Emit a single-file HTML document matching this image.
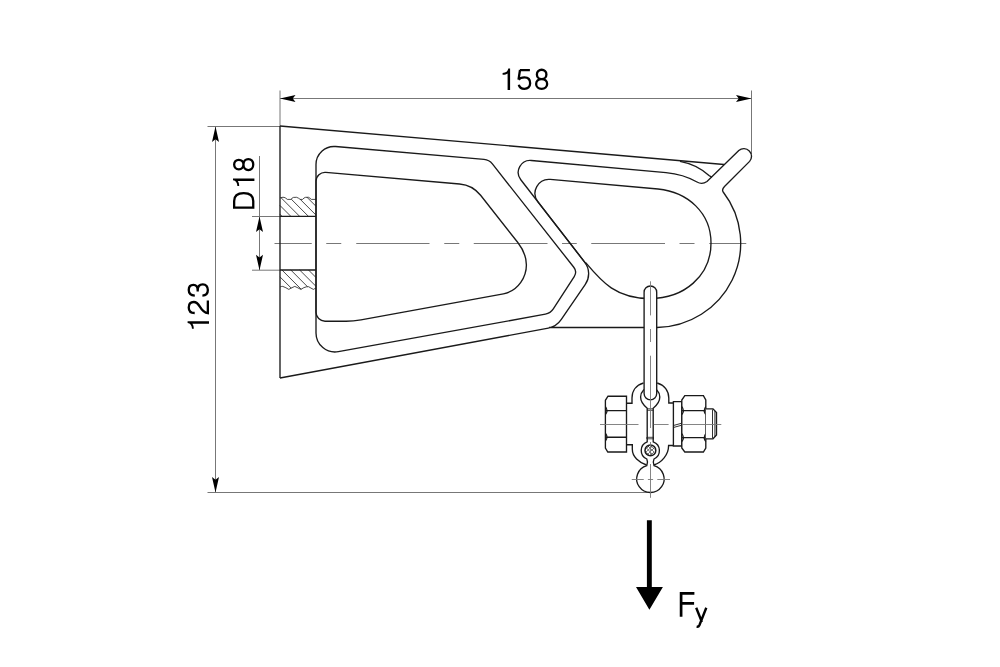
<!DOCTYPE html>
<html><head><meta charset="utf-8"><style>
html,body{margin:0;padding:0;background:#fff;}
svg{display:block;}
text{font-family:"Liberation Sans",sans-serif;}
</style></head><body>
<svg width="1000" height="667" viewBox="0 0 1000 667">
<rect width="1000" height="667" fill="#fff"/>
<path d="M280,90.5 V126" fill="none" stroke="#777" stroke-width="1" />
<path d="M751.5,90.5 V154" fill="none" stroke="#777" stroke-width="1" />
<path d="M280,98.5 H751.5" fill="none" stroke="#777" stroke-width="1" />
<path d="M280.00,98.50 L295.50,95.00 L292.80,98.50 L295.50,102.00 Z" fill="#000" stroke="none" stroke-width="0" />
<path d="M751.50,98.50 L736.00,102.00 L738.70,98.50 L736.00,95.00 Z" fill="#000" stroke="none" stroke-width="0" />
<path d="M207.5,126.5 H280" fill="none" stroke="#777" stroke-width="1" />
<path d="M207.5,492.5 H650" fill="none" stroke="#777" stroke-width="1" />
<path d="M215.5,126.5 V492.5" fill="none" stroke="#777" stroke-width="1" />
<path d="M215.50,126.50 L219.00,142.00 L215.50,139.30 L212.00,142.00 Z" fill="#000" stroke="none" stroke-width="0" />
<path d="M215.50,492.50 L212.00,477.00 L215.50,479.70 L219.00,477.00 Z" fill="#000" stroke="none" stroke-width="0" />
<path d="M252,216.5 H280" fill="none" stroke="#777" stroke-width="1" />
<path d="M252,270.2 H280" fill="none" stroke="#777" stroke-width="1" />
<path d="M259.5,156 V270" fill="none" stroke="#777" stroke-width="1" />
<path d="M259.50,216.50 L263.00,232.00 L259.50,229.30 L256.00,232.00 Z" fill="#000" stroke="none" stroke-width="0" />
<path d="M259.50,270.20 L256.00,254.70 L259.50,257.40 L263.00,254.70 Z" fill="#000" stroke="none" stroke-width="0" />
<path d="M274.50,243.5 H311.75 M326.25,243.5 H341.25 M356.25,243.5 H429.50 M444.25,243.5 H459.25 M473.75,243.5 H547.50 M562.00,243.5 H576.75 M591.25,243.5 H665.00 M679.50,243.5 H694.50 M709.25,243.5 H746.25" fill="none" stroke="#777" stroke-width="1" />
<path d="M280,126 L724,164.5" fill="none" stroke="#1a1a1a" stroke-width="1.35" />
<path d="M280,126 V378" fill="none" stroke="#1a1a1a" stroke-width="1.35" />
<path d="M680,161.3 C692,163.5 702,169 709,175.5 L712,177.3" fill="none" stroke="#1a1a1a" stroke-width="1.35" />
<path d="M335.56,146.54 L484.00,159.43 A12.00,12.00 0 0 1 492.39,163.95 L573.79,267.26 A8.00,8.00 0 0 1 574.22,276.55 L553.31,308.87 A12.00,12.00 0 0 1 545.38,314.16 L338.39,351.70 A19.00,19.00 0 0 1 316.00,333.01 L316.00,164.47 A18.00,18.00 0 0 1 335.56,146.54 Z" fill="none" stroke="#1a1a1a" stroke-width="1.35" />
<path d="M346.00,321.20 L325.00,321.20 A9.00,9.00 0 0 1 316.00,312.20 L316.00,181.35 A9.00,9.00 0 0 1 325.78,172.38 L459.62,183.97 A30.00,30.00 0 0 1 480.60,195.29 L517.80,242.50  C523.4,249.6 526.4,257 526.4,265 C526.4,276 519.1,290.9 503.4,293.8 L361,319.8 Q353.3,321.2 346,321.2" fill="none" stroke="#1a1a1a" stroke-width="1.35" />
<path d="M280.00,378.00 L548.32,328.10 A20.00,20.00 0 0 0 561.16,319.74 L585.32,284.47 A19.00,19.00 0 0 0 584.65,262.09 L520.79,179.77 A12.00,12.00 0 0 1 531.35,160.46 L666.00,172.60  C679,173.8 690,178 697,182 Q702,185 707,181.5 L738.8,150.55 A7.67,7.67 0 0 1 749.6,161.4 L724.5,186.5 Q721.5,189.5 723.2,192 A85,84.3 0 0 1 657,327.5 H549" fill="none" stroke="#1a1a1a" stroke-width="1.35" />
<path d="M586.20,264.10 L537.99,201.95 A14.00,14.00 0 0 1 550.29,179.42 L658.00,189.00  C688,192 711,213 711,243 C711,276 684,298.5 650,298.5 C616,298.5 602,282 585.7,262.6" fill="none" stroke="#1a1a1a" stroke-width="1.35" />
<path d="M280,216.3 H316" fill="none" stroke="#1a1a1a" stroke-width="1.35" />
<path d="M280.1,197.9 Q282,197.1 284,197.3 Q286,198 287.3,199.4 L290.9,199.4 Q292,197.8 293.5,197.4 L296.6,197.3 Q298.6,198 300.2,199.4 L302.6,199.4 Q304,197.6 305.6,197.3 L308.6,197.3 Q310,198.2 311.3,199.4 L316,199.4" fill="none" stroke="#1a1a1a" stroke-width="0.8" />
<path d="M279.90,214.20 L282.00,216.30 M279.90,205.40 L290.80,216.30 M281.00,197.70 L299.60,216.30 M291.20,199.10 L308.40,216.30 M300.20,199.30 L316.00,215.10 M306.90,197.20 L316.00,206.30" fill="none" stroke="#1a1a1a" stroke-width="0.8" />
<path d="M280,270 H316" fill="none" stroke="#1a1a1a" stroke-width="1.35" />
<path d="M280.1,287 Q281.5,286.3 282.8,286.4 Q286,287.6 288.8,289.4 Q292,287.5 294.8,286.4 Q298,287.8 300.8,289.4 Q304,287.2 306.8,286.7 L308.6,286.7 Q311,288.2 313.4,289.4 Q314.8,288.4 316,288.2" fill="none" stroke="#1a1a1a" stroke-width="0.8" />
<path d="M280.00,276.90 L291.30,288.20 M281.95,270.00 L301.25,289.30 M290.80,270.00 L307.50,286.70 M299.65,270.00 L316.05,286.40 M308.50,270.00 L316.00,277.50" fill="none" stroke="#1a1a1a" stroke-width="0.8" />
<path d="M643.5,383 C636,385 632,391 632,398 V403.2 H626.5 M626.5,444.7 H632.3 V449 C632.3,457 639,462.5 646.5,465 M657.2,383 C664.5,385 668.8,391 668.8,398 V403 H673.4 M673.4,445.5 H668.6 C668.6,455 661.5,462.5 654,465" fill="none" stroke="#1a1a1a" stroke-width="1.35" />
<path d="M626.5,396.2 H608 L605.4,400.3 V448 L607.8,452 H626.5 Z M605.4,410.6 H626.5 M605.4,437.2 H626.5" fill="#fff" stroke="#1a1a1a" stroke-width="1.35" />
<path d="M605.4,406.6 Q608.6,410.6 605.4,414.6 M605.4,433.2 Q608.6,437.2 605.4,441.2" fill="none" stroke="#1a1a1a" stroke-width="1.2" />
<path d="M673.4,401.6 H681.8 V446 H673.4 Z" fill="#fff" stroke="#1a1a1a" stroke-width="1.35" />
<path d="M673.4,425.5 L681.8,423.2 M673.4,427.5 L681.8,425.2" fill="none" stroke="#1a1a1a" stroke-width="0.9" />
<path d="M684.8,395.6 H703.4 L705.8,400 V448 L703.4,452 H684.8 L681.8,448 V400 Z M681.8,410.6 H705.8 M681.8,437.6 H705.8" fill="#fff" stroke="#1a1a1a" stroke-width="1.35" />
<path d="M705.8,406.6 Q702.6,410.6 705.8,414.6 M705.8,433.6 Q702.6,437.6 705.8,441.6 M681.8,406.6 Q685,410.6 681.8,414.6 M681.8,433.6 Q685,437.6 681.8,441.6" fill="none" stroke="#1a1a1a" stroke-width="1.2" />
<path d="M705.8,408.8 H713 L716.5,412.6 V435 L713,438.8 H705.8" fill="#fff" stroke="#1a1a1a" stroke-width="1.35" />
<path d="M712.5,409.5 V438.1 M714.9,411 V436.6" fill="none" stroke="#1a1a1a" stroke-width="0.9" />
<path d="M647.2,439 V408.2 C644.5,406 640.6,402.5 640.6,397 A9.6,9.6 0 0 1 659.8,397 C659.8,402.5 655.9,406 653.2,408.2 V439" fill="#fff" stroke="#1a1a1a" stroke-width="1.35" />
<path d="M644.1,292.3 V393.5 A6.3,6.3 0 0 0 656.7,393.5 V292.3 A6.3,6.3 0 0 0 644.1,292.3 Z" fill="#fff" stroke="#1a1a1a" stroke-width="1.35" />
<path d="M647.2,437 V441.8 A9.3,9.3 0 0 0 646.8,459 C647.8,461 647.6,463.5 646.8,465.6 A13.7,13.7 0 1 0 654,465.6 C653.2,463.5 653,461 654,459 A9.3,9.3 0 0 0 653.2,441.8 V437" fill="#fff" stroke="#1a1a1a" stroke-width="1.35" />
<path d="M647.2,437.3 H653.2 M647.2,438.8 H653.2 M647.2,408.8 H653.2 M647.2,410.3 H653.2" fill="none" stroke="#1a1a1a" stroke-width="0.8" />
<path d="M650.4,450.4 m-5.4,0 a5.4,5.4 0 1 0 10.8,0 a5.4,5.4 0 1 0 -10.8,0" fill="none" stroke="#1a1a1a" stroke-width="1.5" />
<path d="M646.5,448 L652,454 M648,446 L654,452 M646.5,452.5 L650,456 M651,446 L654.5,449 M654,448 L648,454 M652.5,446 L646,452 M654,452 L651,455 M649,446 L646.5,448.5" fill="none" stroke="#1a1a1a" stroke-width="0.6" />
<path d="M650.5,281.30 V315.40 M650.5,329.00 V342.00 M650.5,355.70 V428.00 M650.5,442.00 V455.00 M650.5,464.00 V497.80" fill="none" stroke="#777" stroke-width="0.9" />
<path d="M600,424.5 H638.5 M653.8,424.5 H668.6 M682.4,424.5 H721.3" fill="none" stroke="#777" stroke-width="0.9" />
<path d="M631.75,479.5 H643.75 M647.9,479.5 H653.1 M657.3,479.5 H670" fill="none" stroke="#777" stroke-width="0.9" />
<path d="M646.9,520.3 H651.8 V587 H662.9 L649.4,609.8 L636,587 H646.9 Z" fill="#000" stroke="none" stroke-width="0" />
<g transform="translate(502.6,90)"><path transform="translate(0.00,0)" d="M5.0,0 H7.5 V-21.4 H5.7 C5.3,-18.6 3.5,-17.2 0,-17.0 V-15.2 C2.2,-15.2 4,-15.8 5.0,-16.6 Z" fill="#000"/><path transform="translate(15.10,0)" d="M2.2,-19.95 H12.2 M2.3,-19.95 L0.8,-10.4 M0.7,-10.3 C2.0,-11.9 4.2,-12.55 6.8,-12.55 C10.3,-12.55 12.45,-10.2 12.45,-6.7 C12.45,-3.0 10.0,-1.15 6.8,-1.15 C3.6,-1.15 1.6,-2.7 1.1,-5.2" fill="none" stroke="#000" stroke-width="2.30" stroke-linejoin="miter"/><path transform="translate(32.40,0)" d="M6.65,-20.25 C9.35,-20.25 11.4,-18.3 11.4,-15.6 C11.4,-12.9 9.35,-10.95 6.65,-10.95 C3.95,-10.95 1.9,-12.9 1.9,-15.6 C1.9,-18.3 3.95,-20.25 6.65,-20.25 Z M6.65,-10.95 C9.9,-10.95 12.15,-8.9 12.15,-6.05 C12.15,-3.1 9.9,-1.15 6.65,-1.15 C3.4,-1.15 1.15,-3.1 1.15,-6.05 C1.15,-8.9 3.4,-10.95 6.65,-10.95 Z" fill="none" stroke="#000" stroke-width="2.30" stroke-linejoin="miter"/></g>
<g transform="translate(209,328.7) rotate(-90)"><path transform="translate(0.00,0)" d="M5.0,0 H7.5 V-21.4 H5.7 C5.3,-18.6 3.5,-17.2 0,-17.0 V-15.2 C2.2,-15.2 4,-15.8 5.0,-16.6 Z" fill="#000"/><path transform="translate(14.40,0)" d="M1.3,-14.3 C1.3,-18.4 3.6,-20.25 6.9,-20.25 C10.3,-20.25 12.3,-18.2 12.3,-15.2 C12.3,-12.2 10.2,-10.7 7.4,-9.0 C3.9,-6.9 1.6,-5.0 1.15,-1.15 H13.9" fill="none" stroke="#000" stroke-width="2.30" stroke-linejoin="miter"/><path transform="translate(31.90,0)" d="M1.2,-14.2 C1.5,-18.5 3.9,-20.25 6.8,-20.25 C9.9,-20.25 11.9,-18.4 11.9,-15.6 C11.9,-12.8 9.8,-11.3 6.4,-11.3 H5.4 M6.4,-11.3 C10.2,-11.3 12.35,-9.2 12.35,-6.2 C12.35,-2.9 9.9,-1.15 6.7,-1.15 C3.4,-1.15 1.3,-3.0 1.15,-6.6" fill="none" stroke="#000" stroke-width="2.30" stroke-linejoin="miter"/></g>
<g transform="translate(254.4,208.8) rotate(-90)"><path transform="translate(0.00,0)" d="M1.15,-1.15 V-20.25 H7.8 C13.0,-20.25 15.75,-16.6 15.75,-10.7 C15.75,-4.8 13.0,-1.15 7.8,-1.15 Z" fill="none" stroke="#000" stroke-width="2.30" stroke-linejoin="miter"/><path transform="translate(22.90,0)" d="M5.0,0 H7.5 V-21.4 H5.7 C5.3,-18.6 3.5,-17.2 0,-17.0 V-15.2 C2.2,-15.2 4,-15.8 5.0,-16.6 Z" fill="#000"/><path transform="translate(37.60,0)" d="M6.65,-20.25 C9.35,-20.25 11.4,-18.3 11.4,-15.6 C11.4,-12.9 9.35,-10.95 6.65,-10.95 C3.95,-10.95 1.9,-12.9 1.9,-15.6 C1.9,-18.3 3.95,-20.25 6.65,-20.25 Z M6.65,-10.95 C9.9,-10.95 12.15,-8.9 12.15,-6.05 C12.15,-3.1 9.9,-1.15 6.65,-1.15 C3.4,-1.15 1.15,-3.1 1.15,-6.05 C1.15,-8.9 3.4,-10.95 6.65,-10.95 Z" fill="none" stroke="#000" stroke-width="2.30" stroke-linejoin="miter"/></g>
<path d="M681.1,616.7 V593.3 H694.4 M681.1,603.35 H694.1" fill="none" stroke="#000" stroke-width="2.7" />
<path d="M696.2,607.8 L701.9,622 M706.3,607.8 L699.4,625.2 Q698.6,627 696.6,626.6" fill="none" stroke="#000" stroke-width="2.4" />
</svg>
</body></html>
